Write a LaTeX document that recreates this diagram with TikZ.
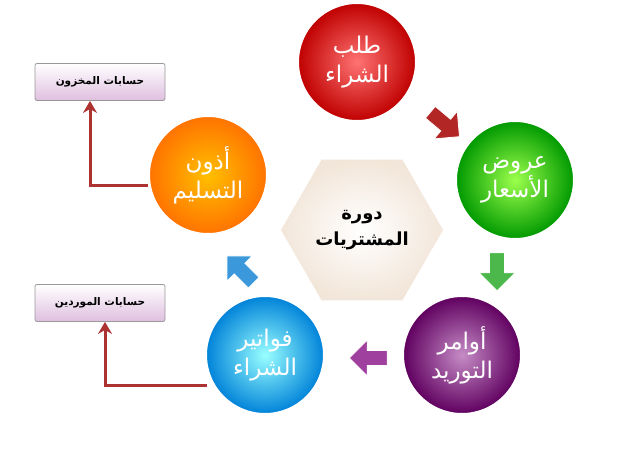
\documentclass[tikz,border=0pt]{standalone}
\usepackage{fontspec}
\TeXXeTstate=1
\newfontfamily\arabicfont[Script=Arabic]{DejaVu Sans}
\usetikzlibrary{shapes.geometric,shapes.arrows,arrows.meta}
\newcommand{\AR}[1]{\beginR #1\endR}
\begin{document}
\begin{tikzpicture}[x=1pt,y=-1pt,
 ball/.style={circle,minimum size=118pt,inner sep=0pt,draw=white,line width=2pt,shading=radial,text=white,font=\arabicfont\fontsize{23}{29}\selectfont,align=center},
 blk/.style={single arrow,minimum height=38pt,minimum width=36pt,single arrow head extend=6pt,inner sep=4pt,draw=white,line width=0.8pt},
 acct/.style={draw=gray!80,line width=0.8pt,rounded corners=2pt,minimum width=130pt,minimum height=37pt,top color=white,bottom color=violet!25,font=\arabicfont\bfseries\fontsize{10.5}{12}\selectfont},
 link/.style={draw=red!60!black!80,line width=3pt,-{Stealth[length=12pt,width=14pt]}}]
\useasboundingbox (0,0) rectangle (623,452);
\node[ball,inner color=red!55,outer color=red!75!black] (a) at (357,62) {\AR{طلب}\\\AR{الشراء}};
\node[ball,inner color=green!55!yellow!70,outer color=green!60!black] (b) at (515,180) {\AR{عروض}\\\AR{الأسعار}};
\node[ball,inner color=violet!45,outer color=violet!75!black] (c) at (462,355) {\AR{أوامر}\\\AR{التوريد}};
\node[ball,inner color=cyan!40,outer color=cyan!60!blue!85!black] (d) at (265,355) {\AR{فواتير}\\\AR{الشراء}};
\node[ball,inner color=orange!50!yellow,outer color=orange!90!red] (e) at (208,175) {\AR{أذون}\\\AR{التسليم}};
\node[regular polygon,regular polygon sides=6,minimum size=138pt,draw=white,line width=1pt,inner color=white,outer color=brown!20,font=\arabicfont\bfseries\fontsize{18}{26}\selectfont,align=center] (h) at (362,230) {\AR{دورة}\\\AR{المشتريات}};
\node[blk,fill=red!65!black!85,rotate=-40] (ab) at (442,122) {};
\node[blk,fill=green!60!black!70,rotate=-90] (bc) at (497,268) {};
\node[blk,fill=violet!75,rotate=180] (cd) at (372,358) {};
\node[blk,fill=cyan!70!blue!80,rotate=135] (de) at (243,272) {};
\node[acct] (s1) at (100,82) {\AR{حسابات المخزون}};
\node[acct] (s2) at (100,303) {\AR{حسابات الموردين}};
\coordinate (k1) at (90,185);
\coordinate (k2) at (105,385);
\draw[link] (e.west |- k1) -- (k1) -- (k1 |- s1.south);
\draw[link] (d.west |- k2) ++(2,0) -- (k2) -- (k2 |- s2.south);
\end{tikzpicture}
\end{document}
